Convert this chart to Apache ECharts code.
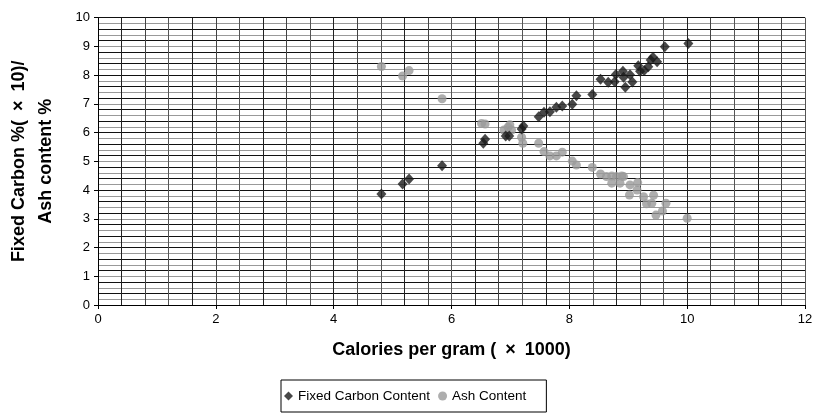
<!DOCTYPE html>
<html>
<head>
<meta charset="utf-8">
<script src="https://cdn.jsdelivr.net/npm/echarts@6/dist/echarts.min.js"></script>
<style>html,body{margin:0;padding:0;background:#fff}#c{width:814px;height:416px}</style>
</head>
<body>
<div id="c"></div>
<script>
const xTicks = [0, 2, 4, 6, 8, 10, 12];
const yTicks = [0, 1, 2, 3, 4, 5, 6, 7, 8, 9, 10];

const fixedCarbon = [
  [4.81, 3.86], [5.17, 4.21], [5.28, 4.39], [5.84, 4.85], [6.54, 5.63], [6.57, 5.77],
  [6.92, 5.88], [6.98, 5.88], [7.19, 6.13], [7.22, 6.23], [7.48, 6.55], [7.57, 6.71],
  [7.67, 6.73], [7.78, 6.88], [7.88, 6.93], [8.05, 6.99], [8.12, 7.28], [8.39, 7.33],
  [8.53, 7.86], [8.66, 7.75], [8.77, 7.77], [8.79, 8.02], [8.91, 8.14], [8.92, 7.93],
  [9.03, 8.01], [8.95, 7.58], [9.07, 7.76], [9.17, 8.33], [9.20, 8.14], [9.27, 8.16],
  [9.34, 8.29], [9.38, 8.53], [9.42, 8.62], [9.49, 8.47], [9.62, 8.99], [10.02, 9.10]
];

const ashContent = [
  [4.81, 8.30], [5.17, 7.97], [5.28, 8.16], [5.84, 7.18], [6.51, 6.32], [6.57, 6.30],
  [6.89, 6.09], [6.96, 6.19], [6.99, 6.27], [7.02, 6.09], [7.19, 5.84], [7.21, 5.63],
  [7.48, 5.63], [7.57, 5.34], [7.67, 5.19], [7.78, 5.19], [7.88, 5.32], [8.05, 5.01],
  [8.12, 4.87], [8.39, 4.79], [8.53, 4.56], [8.63, 4.47], [8.72, 4.49], [8.80, 4.47],
  [8.89, 4.49], [8.92, 4.47], [8.72, 4.24], [8.86, 4.24], [9.03, 4.18], [9.16, 4.26],
  [9.02, 3.83], [9.15, 4.00], [9.26, 3.77], [9.31, 3.52], [9.40, 3.54], [9.43, 3.82],
  [9.64, 3.54], [9.47, 3.13], [9.58, 3.27], [10.00, 3.02]
];

const FONT = 'Liberation Sans, Arial, sans-serif';
const chart = echarts.init(document.getElementById('c'), null, {renderer: 'canvas'});
chart.setOption({
  animation: false,
  backgroundColor: '#fff',
  grid: {left: 98, right: 9, top: 17.7, bottom: 111, containLabel: false, outerBoundsMode: 'none'},
  xAxis: [
    {
      type: 'value', min: xTicks[0], max: xTicks[xTicks.length - 1], interval: 2,
      name: 'Calories per gram (\u2002×\u20021000)', nameLocation: 'middle', nameGap: 36,
      nameTextStyle: {fontFamily: FONT, fontSize: 18, fontWeight: 'bold', color: '#000'},
      axisLine: {show: true, onZero: false, lineStyle: {color: '#000', width: 1}},
      axisTick: {show: true, inside: false, length: 4, lineStyle: {color: '#000'}},
      axisLabel: {fontFamily: FONT, fontSize: 13, color: '#000', margin: 8},
      splitLine: {show: false}
    },
    {
      type: 'value', min: 0, max: 12, interval: 0.4, position: 'bottom',
      axisLine: {show: false}, axisTick: {show: false}, axisLabel: {show: false},
      splitLine: {show: true, lineStyle: {color: ['#555', '#222', '#444'], width: 1}}
    }
  ],
  yAxis: [
    {
      type: 'value', min: yTicks[0], max: yTicks[yTicks.length - 1], interval: 1,
      name: 'Fixed Carbon %(\u2002×\u200210)/\nAsh content %', nameLocation: 'middle', nameGap: 38,
      nameTextStyle: {fontFamily: FONT, fontSize: 18, fontWeight: 'bold', color: '#000', lineHeight: 27},
      axisLine: {show: true, lineStyle: {color: '#000', width: 1}},
      axisTick: {show: true, inside: false, length: 4, lineStyle: {color: '#000'}},
      axisLabel: {fontFamily: FONT, fontSize: 13, color: '#000', margin: 8},
      splitLine: {show: false}
    },
    {
      type: 'value', min: 0, max: 10, interval: 0.2, position: 'left',
      axisLine: {show: false}, axisTick: {show: false}, axisLabel: {show: false},
      splitLine: {show: true, lineStyle: {color: ['#111', '#999'], width: 1}}
    }
  ],
  legend: {
    left: 281, top: 380, orient: 'horizontal',
    padding: [9, 20, 9, 3], itemGap: 8, itemWidth: 9, itemHeight: 9,
    borderColor: '#000', borderWidth: 1, borderRadius: 0,
    textStyle: {fontFamily: FONT, fontSize: 13.5, color: '#000'},
    data: [
      {name: 'Fixed Carbon Content', icon: 'diamond'},
      {name: 'Ash Content', icon: 'circle'}
    ]
  },
  series: [
    {
      name: 'Fixed Carbon Content', type: 'scatter', xAxisIndex: 0, yAxisIndex: 0,
      data: fixedCarbon, symbol: 'diamond', symbolSize: [10, 11],
      itemStyle: {color: '#1a1a1a'}, z: 5
    },
    {
      name: 'Ash Content', type: 'scatter', xAxisIndex: 0, yAxisIndex: 0,
      data: ashContent, symbol: 'circle', symbolSize: 9,
      itemStyle: {color: '#9a9a9a'}, z: 4
    }
  ]
});
</script>
</body>
</html>
